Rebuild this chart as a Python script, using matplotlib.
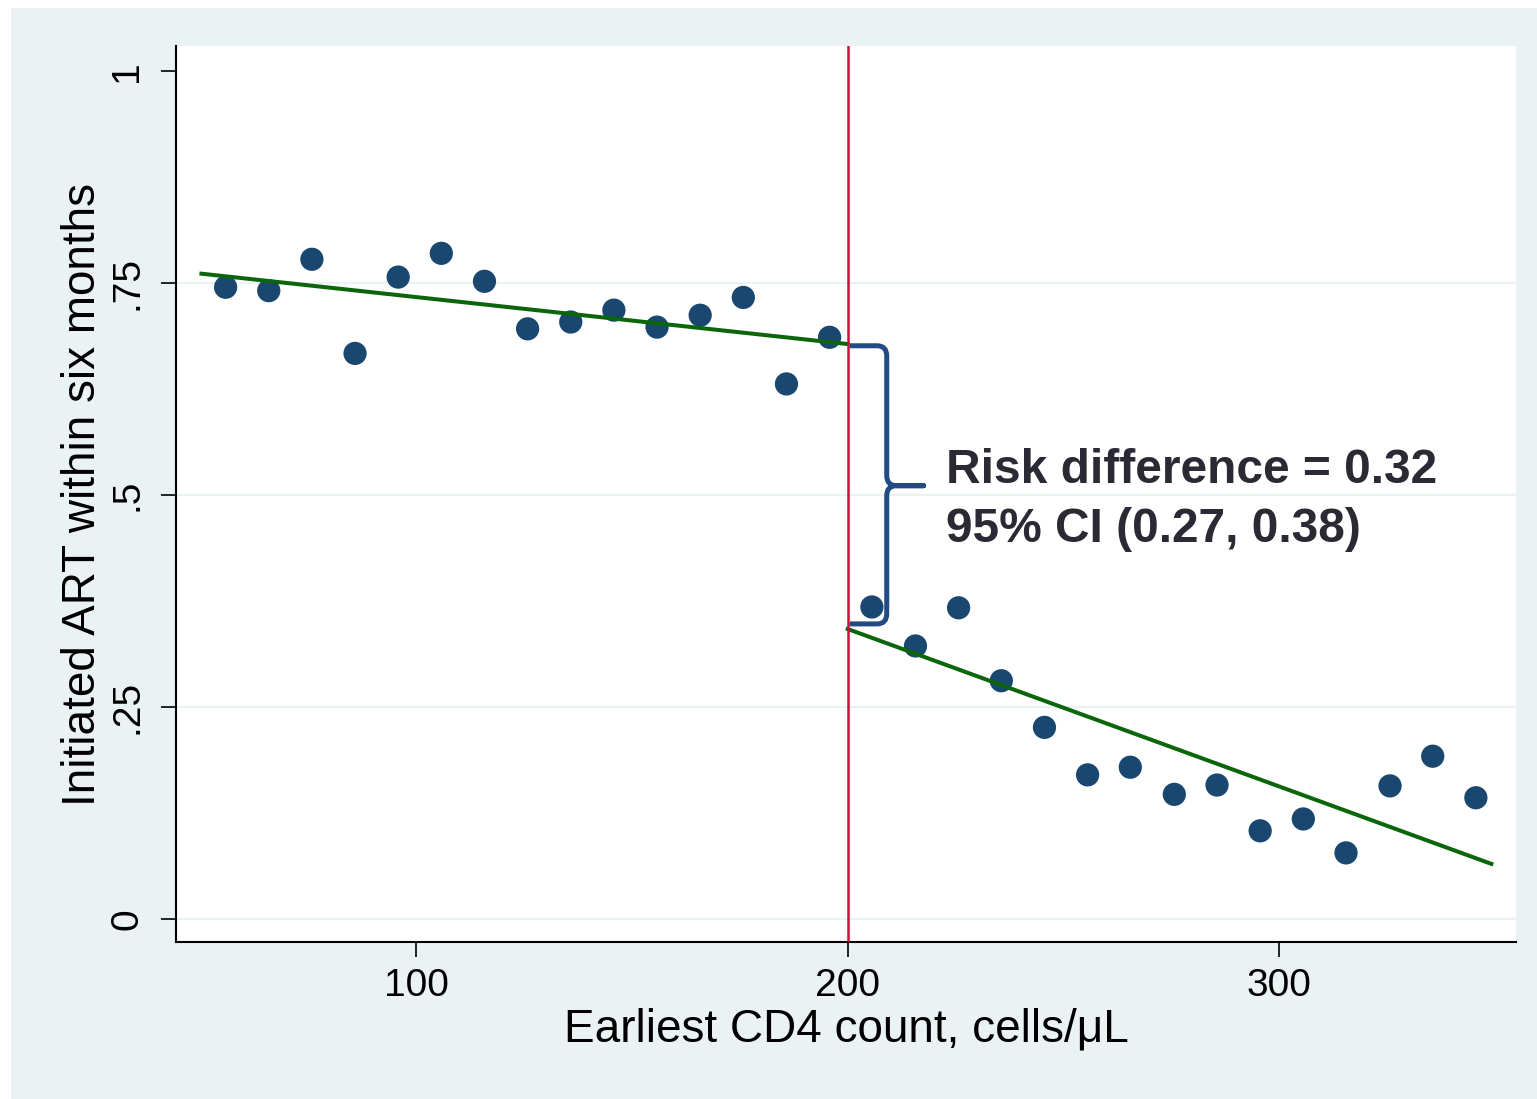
import matplotlib
matplotlib.use("Agg")
import matplotlib.pyplot as plt
from matplotlib.patches import Rectangle, PathPatch
from matplotlib.path import Path
import numpy as np

# binned means
cd4_below = [55.8, 65.8, 75.8, 85.8, 95.8, 105.8, 115.8, 125.8, 135.8, 145.8,
             155.8, 165.8, 175.8, 185.8, 195.8]
art_below = [0.745, 0.741, 0.778, 0.667, 0.757, 0.785, 0.752, 0.696, 0.704, 0.718,
             0.698, 0.712, 0.733, 0.631, 0.686]
cd4_above = [205.6, 215.7, 225.7, 235.6, 245.6, 255.6, 265.5, 275.7, 285.6, 295.6,
             305.6, 315.5, 325.7, 335.6, 345.6]
art_above = [0.368, 0.322, 0.367, 0.281, 0.226, 0.170, 0.179, 0.147, 0.158, 0.104,
             0.118, 0.078, 0.157, 0.192, 0.143]

# fitted lines either side of the threshold
fit_below_x = [50.2, 200.0]
fit_below_y = [0.761, 0.678]
fit_above_x = [200.0, 349.2]
fit_above_y = [0.342, 0.065]

threshold = 200
yticks = [0, 0.25, 0.5, 0.75, 1]
ytick_labels = ["0", ".25", ".5", ".75", "1"]
xticks = [100, 200, 300]

line1 = "Risk difference = 0.32"
line2 = "95% CI (0.27, 0.38)"

NAVY = "#1a476f"
GREEN = "#0b650b"
RED = "#cc1038"
BG = "#eaf2f3"

plt.rcParams['font.family'] = ['Liberation Sans', 'DejaVu Sans']

fig = plt.figure(figsize=(15.37, 10.99), dpi=100)
fig.patch.set_facecolor("white")
fig.add_artist(Rectangle((11 / 1537, 0), 1, 1 - 8 / 1099, transform=fig.transFigure,
                         facecolor=BG, edgecolor="none", zorder=-5))

ax = fig.add_axes([176 / 1537, 1 - 942 / 1099, (1516 - 176) / 1537, (942 - 46) / 1099])
ax.set_facecolor("white")

for yv in yticks[:-1]:
    ax.axhline(yv, color=BG, lw=1.6, zorder=0)

ax.scatter(cd4_below, art_below, s=280, color=NAVY, edgecolor="none", zorder=2)
ax.scatter(cd4_above, art_above, s=280, color=NAVY, edgecolor="none", zorder=2)
ax.plot(fit_below_x, fit_below_y, color=GREEN, lw=2.9, zorder=3)
ax.plot(fit_above_x, fit_above_y, color=GREEN, lw=2.9, zorder=3)
ax.axvline(threshold, color=RED, lw=1.8, zorder=4)

# curly brace between the two fitted values at the threshold
yt = fit_below_y[1] - 0.002
yb = fit_above_y[0] + 0.006
ym = 0.511
xs, xv, xt = threshold + 0.46, threshold + 9.04, threshold + 17.6
rx, ry = 2.2, 0.012
verts = [(xs, yt), (xv - rx, yt), (xv, yt), (xv, yt - ry),
         (xv, ym + ry), (xv, ym), (xv + rx, ym), (xt, ym),
         (xv + rx, ym), (xv, ym), (xv, ym - ry),
         (xv, yb + ry), (xv, yb), (xv - rx, yb), (xs, yb)]
codes = [Path.MOVETO, Path.LINETO, Path.CURVE3, Path.CURVE3,
         Path.LINETO, Path.CURVE3, Path.CURVE3, Path.LINETO,
         Path.LINETO, Path.CURVE3, Path.CURVE3,
         Path.LINETO, Path.CURVE3, Path.CURVE3, Path.LINETO]
ax.add_patch(PathPatch(Path(verts, codes), facecolor="none", edgecolor="#214b82",
                       lw=3.6, joinstyle="round", capstyle="butt", zorder=5))

ax.text(222.7, 0.514, line1, fontsize=34.5, fontweight="bold", color="#2a2a35",
        va="baseline", ha="left")
ax.text(222.7, 0.4446, line2, fontsize=34.5, fontweight="bold", color="#2a2a35",
        va="baseline", ha="left")

ax.set_xlim(44.3, 354.9)
ax.set_ylim(-0.0271, 1.0295)
ax.set_xticks(xticks)
ax.set_xticklabels([str(v) for v in xticks])
ax.set_yticks(yticks)
ax.set_yticklabels(ytick_labels, rotation=90, va="center")

for side in ["top", "right"]:
    ax.spines[side].set_visible(False)
for side in ["left", "bottom"]:
    ax.spines[side].set_linewidth(1.5)
    ax.spines[side].set_color("black")

ax.tick_params(axis="both", direction="out", length=11, width=1.2, labelsize=28,
               colors="black")
ax.tick_params(axis="y", pad=11)
ax.tick_params(axis="x", pad=8)

ax.set_xlabel("Earliest CD4 count, cells/\u03bcL", fontsize=33, labelpad=2)
ax.set_ylabel("Initiated ART within six months", fontsize=33, labelpad=3)

fig.savefig("out.png", dpi=100)
